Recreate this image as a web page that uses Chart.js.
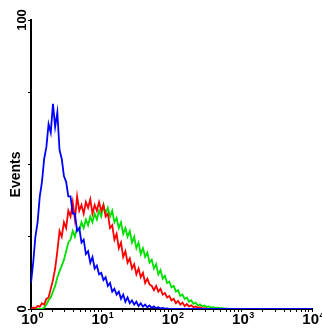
<!DOCTYPE html>
<html>
<head>
<meta charset="utf-8">
<script src="https://cdn.jsdelivr.net/npm/chart.js@4"></script>
<style>
  html, body { margin: 0; padding: 0; background: #fff; overflow: hidden; }
  #wrap { width: 322px; height: 333px; position: relative; }
</style>
</head>
<body>
<div id="wrap"><canvas id="graph" width="322" height="333"></canvas></div>
<script>
// histogram channels: 32 per decade, 10^0 .. 10^4
const channelsPerDecade = 32;
const decades = [0, 1, 2, 3, 4];
const minorSteps = [2, 3, 4, 5, 6, 7, 8, 9];
const yTicks = [0, 25, 50, 75, 100];
const yLabels = [0, 100];
const yTitle = "Events";

const blue = [
  9, 16, 25, 30, 39, 44, 52, 56, 64, 61,
  71, 63, 68, 55, 52, 46, 44, 39, 39, 33,
  33, 27, 28, 23, 24, 19, 20, 16, 18, 14,
  15, 12, 12.5, 10, 11, 8, 9, 6, 7, 5,
  6, 3.5, 5, 2.5, 4, 2, 3, 1.5, 2.5, 1,
  2, 0.8, 1.5, 0.6, 1.2, 0.4, 0.9, 0.3, 0.6, 0.2,
  0.4, 0.1, 0.2, 0, 0, 0, 0, 0, 0, 0,
  0, 0, 0, 0, 0, 0, 0, 0, 0, 0,
  0, 0, 0, 0, 0, 0, 0, 0, 0, 0,
  0, 0, 0, 0, 0, 0, 0, 0, 0, 0,
  0, 0, 0, 0, 0, 0, 0, 0, 0, 0,
  0, 0, 0, 0, 0, 0, 0, 0, 0, 0,
  0, 0, 0, 0, 0, 0, 0, 0, 0
];

const red = [
  0, 0.5, 0.3, 1, 0.8, 2, 1.5, 3.5, 4, 7,
  10, 14, 20, 27, 25, 30, 28, 34, 32, 37,
  31, 39, 34, 36, 33, 37, 35, 38, 33, 36,
  34, 37, 34, 36, 32, 33, 28, 29, 24, 26,
  21, 23, 18, 20, 16, 17.5, 14, 15.5, 12, 14,
  11, 12.5, 9, 10.5, 8.5, 8, 6.5, 8, 6, 7,
  5, 5.5, 4, 4.5, 3, 3.5, 2, 2.8, 1.5, 2.2,
  1, 1.7, 0.9, 1.3, 0.6, 0.9, 0.4, 0.6, 0.2, 0.3,
  0.1, 0, 0, 0, 0, 0, 0, 0, 0, 0,
  0, 0, 0, 0, 0, 0, 0, 0, 0, 0,
  0, 0, 0, 0, 0, 0, 0, 0, 0, 0,
  0, 0, 0, 0, 0, 0, 0, 0, 0, 0,
  0, 0, 0, 0, 0, 0, 0, 0, 0
];

const green = [
  0, 0, 0, 0, 0, 0, 0.5, 1.5, 3, 4,
  6, 8, 11, 13, 15, 17, 20, 23, 24, 27,
  25, 28, 27, 30, 28, 31, 29, 32, 30, 33,
  31, 34, 32, 36, 33, 35, 32, 34, 30, 31.5,
  28, 30, 26, 28, 25, 27, 23, 25, 21, 23,
  19, 21, 18, 19.5, 16, 17, 14, 15.5, 12, 13.5,
  10.5, 11.5, 9, 9.5, 7.5, 8, 6, 6.5, 4.5, 5,
  3.5, 4, 2.5, 3, 1.8, 2.2, 1.2, 1.6, 0.9, 1.2,
  0.7, 0.9, 0.5, 0.6, 0.4, 0.5, 0.3, 0.3, 0.2, 0.1,
  0, 0, 0, 0, 0, 0, 0, 0, 0, 0,
  0, 0, 0, 0, 0, 0, 0, 0, 0, 0,
  0, 0, 0, 0, 0, 0, 0, 0, 0, 0,
  0, 0, 0, 0, 0, 0, 0, 0, 0
];

const FONT = '"Liberation Sans", Arial, sans-serif';

function toPoints(arr) {
  return arr.map((v, i) => ({ x: i, y: v }));
}

// tick labels / title drawn by hand (rotated, superscript)
const axisText = {
  id: "axisText",
  afterDraw(chart) {
    const ctx = chart.ctx;
    const xs = chart.scales.x;
    const ys = chart.scales.y;
    ctx.save();
    ctx.fillStyle = "#000";

    ctx.font = "bold 13px " + FONT;
    ctx.textAlign = "center";
    ctx.textBaseline = "middle";
    yLabels.forEach(v => {
      ctx.save();
      ctx.translate(22, ys.getPixelForValue(v));
      ctx.rotate(-Math.PI / 2);
      ctx.fillText(String(v), 0, 0);
      ctx.restore();
    });

    ctx.save();
    ctx.font = "bold 14px " + FONT;
    ctx.translate(16, (ys.top + ys.bottom) / 2 + 10);
    ctx.rotate(-Math.PI / 2);
    ctx.fillText(yTitle, 0, 0);
    ctx.restore();

    ctx.textBaseline = "alphabetic";
    decades.forEach(d => {
      const px = xs.getPixelForValue(d * channelsPerDecade);
      ctx.font = "bold 15px " + FONT;
      ctx.textAlign = "right";
      ctx.fillText("10", px + 7, 324);
      ctx.font = "bold 9px " + FONT;
      ctx.textAlign = "left";
      ctx.fillText(String(d), px + 7.5, 318);
    });
    ctx.restore();
  }
};

const ctx = document.getElementById("graph").getContext("2d");
new Chart(ctx, {
  type: "line",
  data: {
    datasets: [
      { data: toPoints(blue), borderColor: "#0000ff" },
      { data: toPoints(red), borderColor: "#ff0000" },
      { data: toPoints(green), borderColor: "#00e000" }
    ]
  },
  options: {
    responsive: false,
    animation: false,
    events: [],
    layout: { padding: { top: 20, right: 10, left: 0, bottom: 0 } },
    elements: {
      point: { radius: 0 },
      line: { borderWidth: 1.8, tension: 0 }
    },
    plugins: {
      legend: { display: false },
      tooltip: { enabled: false }
    },
    scales: {
      x: {
        type: "linear",
        min: 0,
        max: channelsPerDecade * decades[decades.length - 1],
        afterBuildTicks(scale) {
          const t = [];
          decades.forEach(d => {
            t.push({ value: d * channelsPerDecade });
            if (d < decades[decades.length - 1]) {
              minorSteps.forEach(m => t.push({ value: (d + Math.log10(m)) * channelsPerDecade }));
            }
          });
          scale.ticks = t;
        },
        afterFit(scale) { scale.height = 24; },
        ticks: { display: false },
        grid: { drawOnChartArea: false, drawTicks: true, tickLength: 3, color: "#000", lineWidth: 1 },
        border: { display: true, color: "#000", width: 2 }
      },
      y: {
        min: 0,
        max: 100,
        afterBuildTicks(scale) {
          scale.ticks = yTicks.map(v => ({ value: v }));
        },
        afterFit(scale) { scale.width = 31; },
        ticks: { display: false },
        grid: { drawOnChartArea: false, drawTicks: true, tickLength: 3, color: "#000", lineWidth: 1 },
        border: { display: true, color: "#000", width: 2 }
      }
    }
  },
  plugins: [axisText]
});
</script>
</body>
</html>
